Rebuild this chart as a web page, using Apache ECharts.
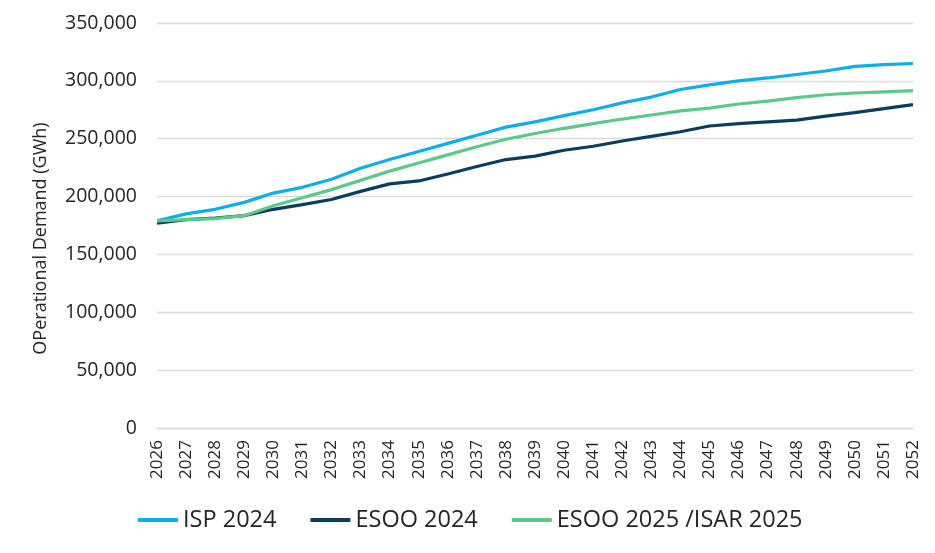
<!DOCTYPE html>
<html>
<head>
<meta charset="utf-8">
<script src="https://cdn.jsdelivr.net/npm/echarts@6/dist/echarts.min.js"></script>
<style>
html,body{margin:0;padding:0;background:#fff;}
#chart{width:935px;height:553px;}
</style>
</head>
<body>
<div id="chart"></div>
<script>
const years = ['2026','2027','2028','2029','2030','2031','2032','2033','2034','2035','2036','2037','2038','2039','2040','2041','2042','2043','2044','2045','2046','2047','2048','2049','2050','2051','2052'];
const isp2024 = [179000,185000,189000,195000,203000,208000,215000,224500,232000,239000,246000,253000,260000,264500,270000,275000,281000,286000,292500,296500,300000,302500,305500,308500,312500,314000,315000];
const esoo2024 = [177000,180000,181500,183500,189000,193000,197500,204500,211000,213500,219500,226000,232000,235000,240000,243500,248000,252000,256000,261000,263000,264500,266000,269500,272500,276000,279500];
const esoo2025 = [179000,180000,181000,183500,192000,199000,206000,214000,222000,229000,236000,243000,249500,254500,259000,263000,267000,270500,274000,276500,280000,282500,285500,288000,289500,290500,291500];
const yTicks = {min:0, max:350000, interval:50000};

const chart = echarts.init(document.getElementById('chart'));
const font = "'Open Sans', 'Liberation Sans', sans-serif";
function mk(name, data, color){
  return {name:name, type:'line', data:data, symbol:'none', smooth:false,
    lineStyle:{color:color, width:3.2}, itemStyle:{color:color}};
}
chart.setOption({
  animation:false,
  textStyle:{fontFamily:font, color:'#262626'},
  grid:{left:157, right:22, top:23, bottom:125},
  legend:{top:503, left:133, itemWidth:40, itemHeight:4, itemGap:34,
    icon:'rect',
    textStyle:{fontSize:23.5, color:'#262626', fontFamily:font},
    data:['ISP 2024','ESOO 2024','ESOO 2025 /ISAR 2025']},
  xAxis:{type:'category', data:years, boundaryGap:false,
    axisLine:{lineStyle:{color:'#D9D9D9', width:1.3}},
    axisTick:{show:false},
    axisLabel:{rotate:90, fontSize:17, color:'#262626', margin:12, interval:0, fontFamily:font}},
  yAxis:{type:'value', min:yTicks.min, max:yTicks.max, interval:yTicks.interval,
    name:'OPerational Demand (GWh)', nameLocation:'middle', nameGap:107,
    nameTextStyle:{fontSize:18, color:'#262626', fontFamily:font, padding:[0,26,0,0]},
    axisLine:{show:false}, axisTick:{show:false},
    splitLine:{lineStyle:{color:'#D9D9D9', width:1.3}},
    axisLabel:{fontSize:19.5, color:'#262626', margin:20, fontFamily:font,
      formatter:v=>v.toLocaleString('en-US')}},
  series:[mk('ISP 2024', isp2024, '#0FAEEB'), mk('ESOO 2024', esoo2024, '#0A3D5E'), mk('ESOO 2025 /ISAR 2025', esoo2025, '#5CC98B')]
});
</script>
</body>
</html>
